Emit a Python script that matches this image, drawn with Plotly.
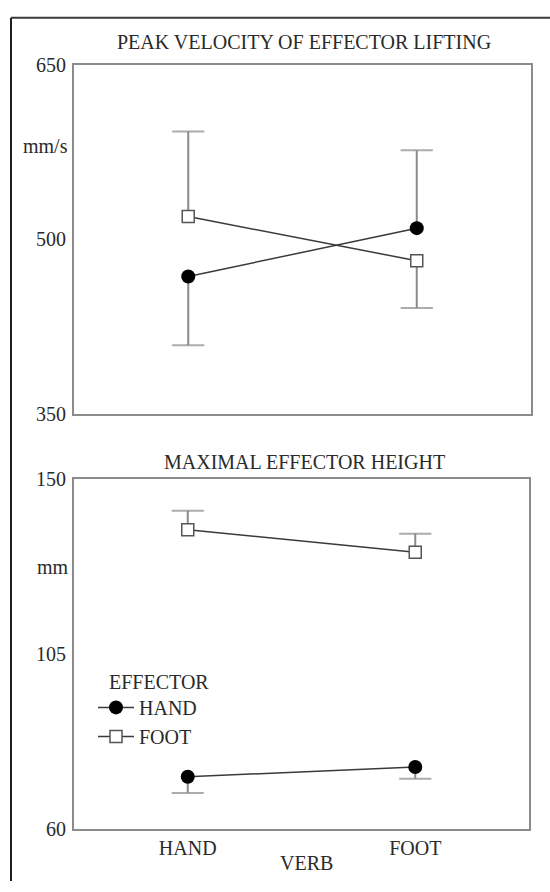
import plotly.graph_objects as go

# ---- data ----
verbs = ["HAND", "FOOT"]

velocity_hand = [468.0, 509.5]
velocity_foot = [519.5, 481.5]
velocity_hand_se = [59.0, 67.0]
velocity_foot_se = [73.0, 40.5]
velocity_hand_side = [-1, 1]   # which side of the error bar is drawn
velocity_foot_side = [1, -1]

height_hand = [73.5, 76.0]
height_foot = [137.0, 131.2]
height_hand_se = [4.2, 3.0]
height_foot_se = [4.9, 4.8]
height_hand_side = [-1, -1]
height_foot_side = [1, 1]

velocity_ticks = [350, 500, 650]
height_ticks = [60, 105, 150]

FONT = "Liberation Serif, Times New Roman, Times, serif"
TXT = "#2a2a2a"
ERR = "#8a8a8a"
LINE = "#3a3a3a"
FS = 20

fig = go.Figure()


def add_err(means, se, side, xa, ya):
    for i, cat in enumerate(verbs):
        tip = means[i] + side[i] * se[i]
        fig.add_trace(go.Scatter(
            x=[cat, cat], y=[means[i], tip], xaxis=xa, yaxis=ya,
            mode="lines+markers",
            line=dict(color=ERR, width=2),
            marker=dict(symbol="line-ew", size=[0, 23], color=ERR,
                        line=dict(color=ERR, width=2)),
            showlegend=False, hoverinfo="skip"))


# error bars first (under the markers)
add_err(velocity_hand, velocity_hand_se, velocity_hand_side, "x", "y")
add_err(velocity_foot, velocity_foot_se, velocity_foot_side, "x", "y")
add_err(height_hand, height_hand_se, height_hand_side, "x2", "y2")
add_err(height_foot, height_foot_se, height_foot_side, "x2", "y2")

hand_marker = dict(symbol="circle", size=14, color="black",
                   line=dict(color="black", width=0))
foot_marker = dict(symbol="square", size=12, color="white",
                   line=dict(color="#555555", width=1.5))

fig.add_trace(go.Scatter(x=verbs, y=velocity_hand, xaxis="x", yaxis="y",
                         mode="lines+markers", name="HAND",
                         line=dict(color=LINE, width=1.5), marker=hand_marker,
                         showlegend=False))
fig.add_trace(go.Scatter(x=verbs, y=velocity_foot, xaxis="x", yaxis="y",
                         mode="lines+markers", name="FOOT",
                         line=dict(color=LINE, width=1.5), marker=foot_marker,
                         showlegend=False))
fig.add_trace(go.Scatter(x=verbs, y=height_hand, xaxis="x2", yaxis="y2",
                         mode="lines+markers", name="HAND",
                         line=dict(color=LINE, width=1.5), marker=hand_marker))
fig.add_trace(go.Scatter(x=verbs, y=height_foot, xaxis="x2", yaxis="y2",
                         mode="lines+markers", name="FOOT",
                         line=dict(color=LINE, width=1.5), marker=foot_marker))

W, H = 550, 892


def px_x(p):
    return p / W


def px_y(p):
    return 1 - p / H


frame = dict(showline=True, mirror=True, linecolor="#8c8c8c", linewidth=2,
             showgrid=False, zeroline=False, ticks="", ticklen=0)

fig.update_layout(
    width=W, height=H,
    margin=dict(l=0, r=0, t=0, b=0),
    paper_bgcolor="white", plot_bgcolor="white",
    font=dict(family=FONT, size=FS, color=TXT),
    xaxis=dict(domain=[px_x(74), px_x(531)], anchor="y", type="category",
               categoryorder="array", categoryarray=verbs,
               range=[-0.5, 1.5], showticklabels=False, **frame),
    yaxis=dict(domain=[px_y(413), px_y(55)], anchor="x", range=[350, 650],
               tickvals=velocity_ticks, ticktext=[str(v) for v in velocity_ticks],
               ticklabelstandoff=2, **frame),
    xaxis2=dict(domain=[px_x(74), px_x(529)], anchor="y2", type="category",
                categoryorder="array", categoryarray=verbs,
                range=[-0.5, 1.5], ticklabelstandoff=0, **frame),
    yaxis2=dict(domain=[px_y(839), px_y(480)], anchor="x2", range=[60, 150],
                tickvals=height_ticks, ticktext=[str(v) for v in height_ticks],
                ticklabelstandoff=2, **frame),
    legend=dict(x=px_x(93), y=px_y(694), xanchor="left", yanchor="top",
                bgcolor="rgba(0,0,0,0)", borderwidth=0, itemwidth=36,
                font=dict(family=FONT, size=FS, color=TXT)),
    showlegend=True,
)

annotations = [
    dict(text="PEAK VELOCITY OF EFFECTOR LIFTING", x=px_x(304), y=px_y(32)),
    dict(text="MAXIMAL EFFECTOR HEIGHT", x=px_x(304), y=px_y(462)),
    dict(text="VERB", x=px_x(306), y=px_y(874)),
    dict(text="mm/s", x=px_x(70), y=px_y(138), xanchor="right"),
    dict(text="mm", x=px_x(71), y=px_y(570), xanchor="right"),
    dict(text="EFFECTOR", x=px_x(107), y=px_y(688), xanchor="left"),
]
for a in annotations:
    a.setdefault("xanchor", "center")
    fig.add_annotation(xref="paper", yref="paper", showarrow=False,
                       yanchor="middle", font=dict(family=FONT, size=FS, color=TXT), **a)

# outer frame of the figure panel (left and top edges)
fig.add_shape(type="line", xref="paper", yref="paper",
              x0=px_x(11), x1=px_x(11), y0=0, y1=px_y(7),
              line=dict(color="#1e1e1e", width=2))
fig.add_shape(type="line", xref="paper", yref="paper",
              x0=px_x(11), x1=1.0, y0=px_y(7), y1=px_y(7),
              line=dict(color="#3a3a3a", width=2))

fig.write_html("out.html")
